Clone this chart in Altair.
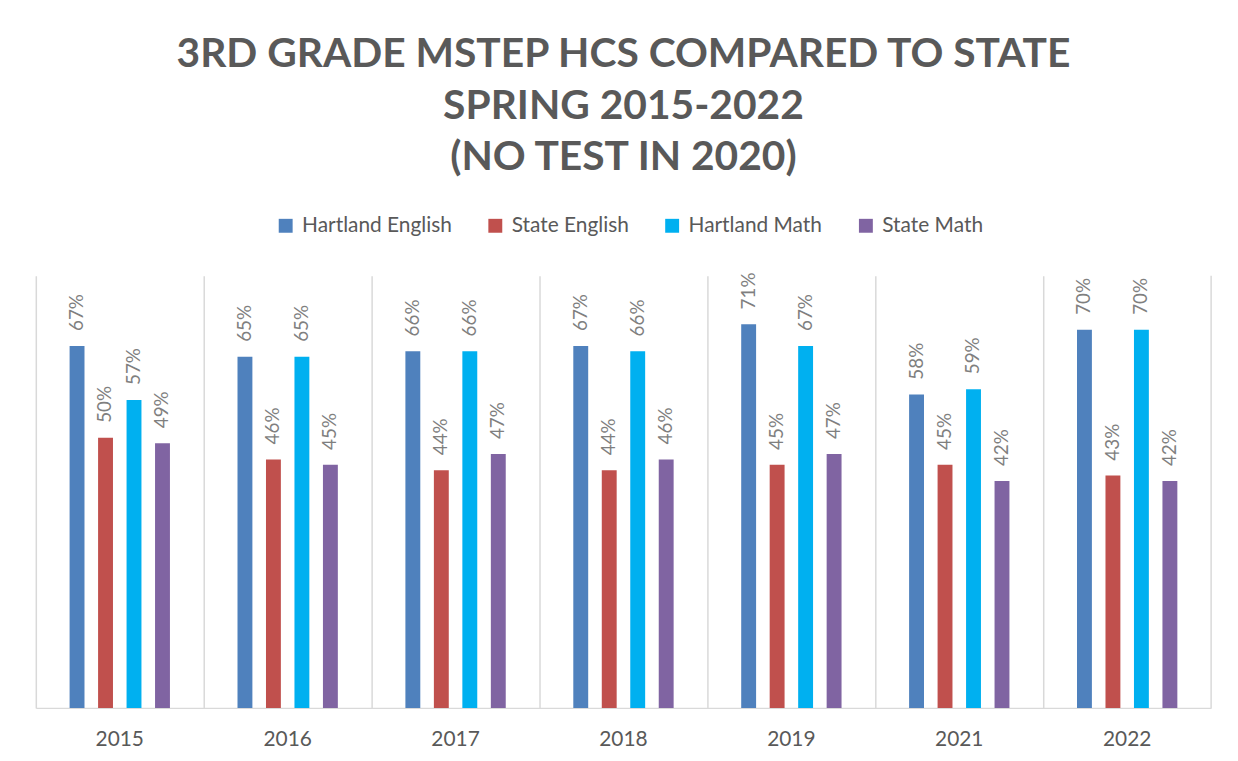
import altair as alt
import pandas as pd

years = ["2015", "2016", "2017", "2018", "2019", "2021", "2022"]
series = ["Hartland English", "State English", "Hartland Math", "State Math"]
hartland_english = [0.67, 0.65, 0.66, 0.67, 0.71, 0.58, 0.70]
state_english = [0.50, 0.46, 0.44, 0.44, 0.45, 0.45, 0.43]
hartland_math = [0.57, 0.65, 0.66, 0.66, 0.67, 0.59, 0.70]
state_math = [0.49, 0.45, 0.47, 0.46, 0.47, 0.42, 0.42]
colors = ["#4F81BD", "#C0504D", "#00B0F0", "#8064A2"]

rows = []
for name, vals in zip(series, [hartland_english, state_english, hartland_math, state_math]):
    for y, v in zip(years, vals):
        rows.append({"year": y, "series": name, "value": v})
df = pd.DataFrame(rows)
edge_df = pd.DataFrame({"year": [years[-1]]})

FONT = "Lato"
GRAY = "#595959"

x = alt.X("year:N", sort=years, title=None,
          scale=alt.Scale(paddingInner=0, paddingOuter=0),
          axis=alt.Axis(labelAngle=0, labelFontSize=21, labelColor=GRAY, labelFont=FONT,
                        labelPadding=21, ticks=False, domainColor="#D9D9D9", domainWidth=1.5,
                        grid=True, gridColor="#D9D9D9", gridWidth=1.5, bandPosition=0))
y = alt.Y("value:Q", scale=alt.Scale(domain=[0, 0.8]), axis=None)
xoff = alt.XOffset("series:N", sort=series,
                   scale=alt.Scale(range=[34, 135], paddingInner=0.477, paddingOuter=0))

base = alt.Chart(df)
bars = base.mark_bar().encode(
    x=x, y=y, xOffset=xoff,
    color=alt.Color("series:N", sort=series,
                    scale=alt.Scale(domain=series, range=colors),
                    legend=alt.Legend(title=None, orient="none", direction="horizontal",
                                      legendX=241, legendY=-61, symbolType="square",
                                      symbolSize=196, symbolStrokeWidth=0, labelFontSize=21,
                                      labelColor=GRAY, labelFont=FONT, labelOffset=6,
                                      columnPadding=33, padding=0)),
)
labels = base.mark_text(angle=270, align="left", baseline="middle", dx=15,
                        fontSize=19, font=FONT, color="#7F7F7F").encode(
    x=x, y=y, xOffset=xoff,
    text=alt.Text("value:Q", format=".0%"),
)
edge = alt.Chart(edge_df).mark_rule(color="#D9D9D9", strokeWidth=1.5).encode(
    x=alt.X("year:N", sort=years, bandPosition=1),
    y=alt.datum(0), y2=alt.datum(0.8),
)

chart = alt.layer(bars, labels, edge).properties(
    width=1183, height=435,
    autosize=alt.AutoSizeParams(type="none"),
    padding={"left": 28, "top": 267, "right": 19, "bottom": 51},
    title=alt.Title(["3RD GRADE MSTEP HCS COMPARED TO STATE", "SPRING 2015-2022", "(NO TEST IN 2020)"],
                    font=FONT, fontSize=41, fontWeight="bold", color=GRAY, lineHeight=52,
                    anchor="middle", offset=36),
).configure(background="white").configure_view(stroke=None)

chart.save("out.html", embed_options={"renderer": "svg", "actions": False})
